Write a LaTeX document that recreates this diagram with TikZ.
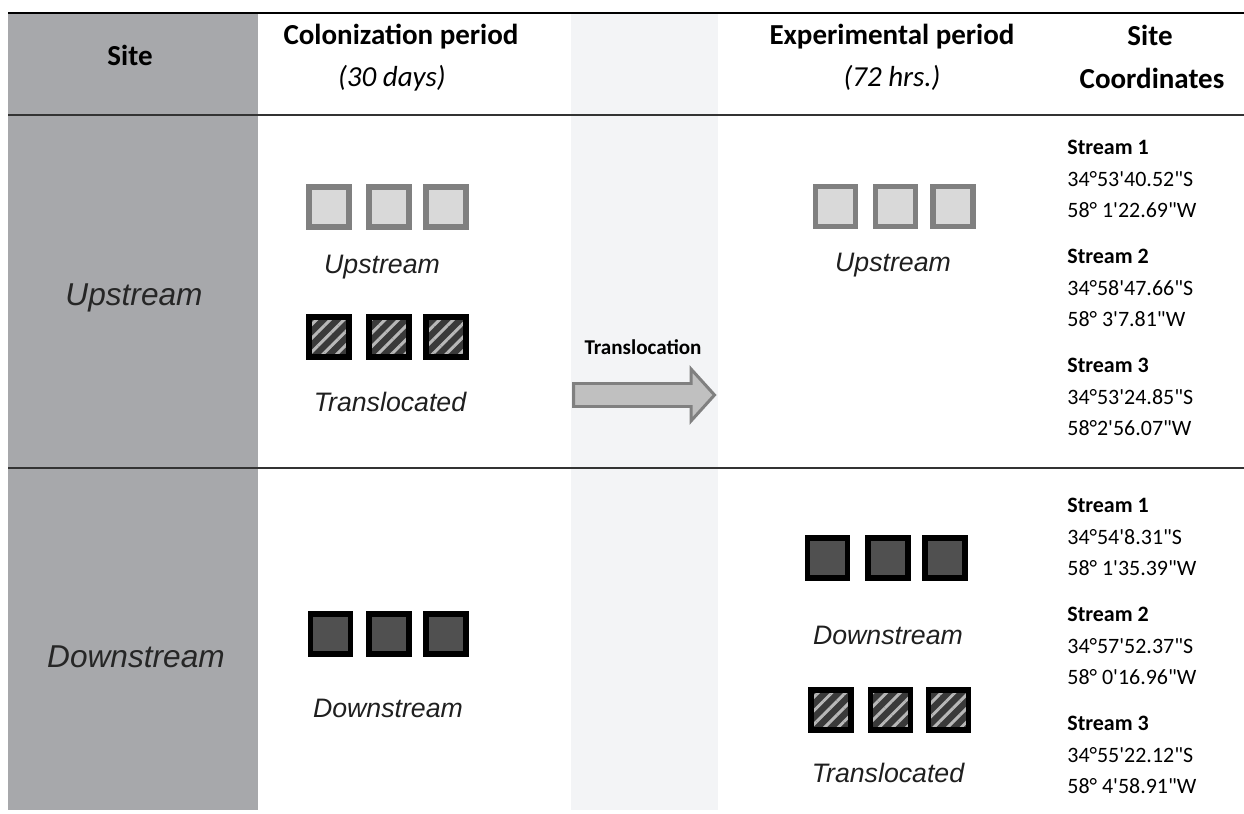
\documentclass[tikz,border=0pt]{standalone}
\usepackage{fontspec}
\setmainfont{Carlito}[Ligatures=TeXOff]
\newfontfamily\arialfont{Liberation Sans}
\usepackage{tikz}
\usetikzlibrary{patterns.meta}
\definecolor{sitegray}{HTML}{A7A8AB}
\definecolor{transgray}{HTML}{F3F4F6}
\definecolor{upfill}{HTML}{D9D9D9}
\definecolor{upedge}{HTML}{808080}
\definecolor{downfill}{HTML}{505050}
\definecolor{hatchfill}{HTML}{3A3A3A}
\definecolor{arrowfill}{HTML}{C0C0C0}

\tikzset{
  headtext/.style={font=\bfseries\fontsize{16.5pt}{19pt}\selectfont, inner sep=0pt},
  headsub/.style={font=\itshape\fontsize{16.5pt}{19pt}\selectfont, inner sep=0pt},
  coordtext/.style={font=\fontsize{12.5pt}{17.8pt}\selectfont, align=left, anchor=west, inner sep=0pt},
  sitelabel/.style={font=\arialfont\itshape\fontsize{18pt}{21pt}\selectfont, text=black!85, inner sep=0pt},
  boxlabel/.style={font=\arialfont\itshape\fontsize{15.2pt}{18pt}\selectfont, text=black!88, inner sep=0pt},
  sqbox/.style={minimum size=0.8cm, inner sep=0pt, line width=3pt},
  upbox/.style={sqbox, draw=upedge, fill=upfill},
  downbox/.style={sqbox, draw=black, fill=downfill},
  hatchbox/.style={sqbox, draw=black,
    preaction={fill=hatchfill},
    preaction={pattern={Lines[angle=45, distance=5.5pt, line width=1.7pt]}, pattern color=black!28}},
}

\begin{document}
\begin{tikzpicture}[x=0.02cm, y=-0.02cm]
  \useasboundingbox (0,0) rectangle (1244,814);
  % columns
  \fill[sitegray] (8,13) rectangle (258,810);
  \fill[transgray] (571,13) rectangle (718,810);
  % rules
  \draw[black, line width=1.5pt] (8,13) -- (1244,13);
  \draw[black!80, line width=1.6pt] (8,115) -- (1244,115);
  \draw[black!80, line width=1.6pt] (8,468) -- (1244,468);

  % header
  \node[headtext] (hsite) at (130,55) {Site};
  \node[headtext] (hcol) at (401,37) {Colonization period};
  \node[headsub] (hcolsub) at (392,78) {(30 days)};
  \node[headtext] (hexp) at (892,37) {Experimental period};
  \node[headsub] (hexpsub) at (892,78) {(72 hrs.)};
  \node[headtext] (hcoord) at (1150,35) {Site};
  \node[headtext] (hcoordb) at (1152,78) {Coordinates};

  % site names
  \node[sitelabel] (up) at (134,298) {Upstream};
  \node[sitelabel] (down) at (136,657) {Downstream};

  % upstream, colonization
  \node[upbox] (cu1) at (329,207) {};
  \node[upbox] (cu2) at (389,207) {};
  \node[upbox] (cu3) at (446,207) {};
  \node[boxlabel] (cul) at (382,267) {Upstream};
  \node[hatchbox] (ct1) at (329,337) {};
  \node[hatchbox] (ct2) at (389,337) {};
  \node[hatchbox] (ct3) at (446,337) {};
  \node[boxlabel] (ctl) at (390,402) {Translocated};

  % translocation arrow
  \node[font=\bfseries\fontsize{12pt}{14pt}\selectfont, inner sep=0pt] (tlab) at (643,347) {Translocation};
  \draw[draw=upedge, fill=arrowfill, line width=1.7pt, line join=miter]
    (573.5,383.5) -- (691,383.5) -- (691,369) -- (714.5,395) -- (691,421)
    -- (691,406.5) -- (573.5,406.5) -- cycle;

  % upstream, experimental
  \node[upbox] (eu1) at (835.5,206.5) {};
  \node[upbox] (eu2) at (895.5,206.5) {};
  \node[upbox] (eu3) at (953,206.5) {};
  \node[boxlabel] (eul) at (893,265) {Upstream};

  % downstream, colonization
  \node[downbox] (cd1) at (330.5,634) {};
  \node[downbox] (cd2) at (389,634) {};
  \node[downbox] (cd3) at (446,634) {};
  \node[boxlabel] (cdl) at (388,708) {Downstream};

  % downstream, experimental
  \node[downbox] (ed1) at (827.5,558) {};
  \node[downbox] (ed2) at (888,558) {};
  \node[downbox] (ed3) at (945,558) {};
  \node[boxlabel] (edl) at (888,635) {Downstream};
  \node[hatchbox] (et1) at (831,710) {};
  \node[hatchbox] (et2) at (890.5,710) {};
  \node[hatchbox] (et3) at (948.5,710) {};
  \node[boxlabel] (etl) at (888,773) {Translocated};

  % coordinates
  \node[coordtext] (us1) at (1067,179) {\textbf{Stream 1}\\34°53'40.52"S\\58° 1'22.69"W};
  \node[coordtext] (us2) at (1067,288) {\textbf{Stream 2}\\34°58'47.66"S\\58° 3'7.81"W};
  \node[coordtext] (us3) at (1067,397) {\textbf{Stream 3}\\34°53'24.85"S\\58°2'56.07"W};
  \node[coordtext] (ds1) at (1067,537) {\textbf{Stream 1}\\34°54'8.31"S\\58° 1'35.39"W};
  \node[coordtext] (ds2) at (1067,646) {\textbf{Stream 2}\\34°57'52.37"S\\58° 0'16.96"W};
  \node[coordtext] (ds3) at (1067,755) {\textbf{Stream 3}\\34°55'22.12"S\\58° 4'58.91"W};
\end{tikzpicture}
\end{document}
